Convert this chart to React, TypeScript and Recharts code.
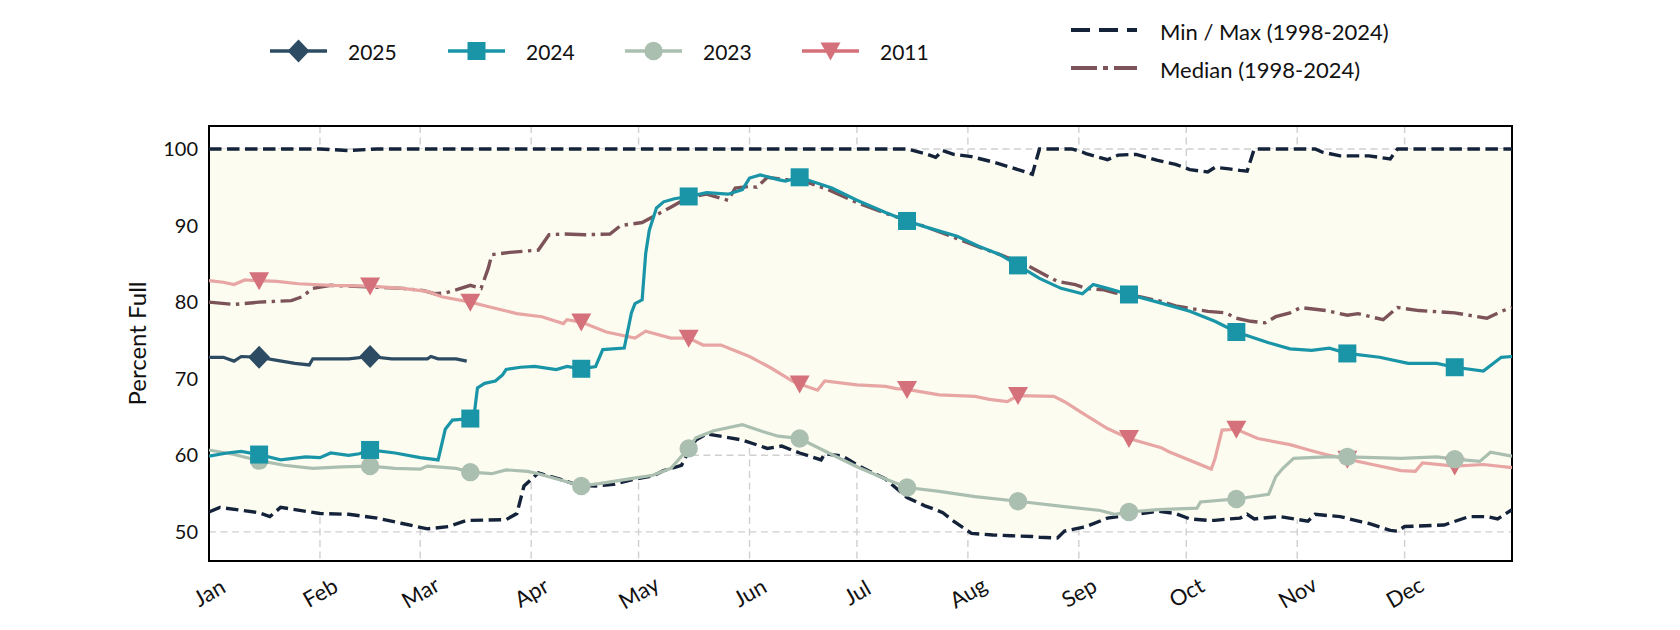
import React from 'react';
import {
  ComposedChart,
  Line,
  Area,
  XAxis,
  YAxis,
  CartesianGrid,
  ReferenceArea,
} from 'recharts';

const FONT = "Lato, 'DejaVu Sans', sans-serif";

const MONTHS = ['Jan', 'Feb', 'Mar', 'Apr', 'May', 'Jun', 'Jul', 'Aug', 'Sep', 'Oct', 'Nov', 'Dec'];
const MONTH_START_DAYS = [0, 31, 59, 90, 120, 151, 181, 212, 243, 273, 304, 334];
const MARKER_DAYS = [14, 45, 73, 104, 134, 165, 195, 226, 257, 287, 318, 348];
const Y_TICKS = [50, 60, 70, 80, 90, 100];

// Min / Max envelope (1998-2024)
const ENV_DAYS = [
  0, 3, 14, 17, 20, 31, 39, 47, 54, 61,
  67, 72, 83, 86, 88, 92, 98, 103, 108, 113,
  119, 124, 127, 132, 134, 136, 139, 144, 149, 156,
  160, 165, 171, 172, 177, 182, 189, 195, 200, 203,
  205, 208, 213, 219, 224, 230, 232, 237, 239, 241,
  244, 245, 251, 254, 259, 265, 270, 274, 279, 281,
  285, 288, 290, 292, 299, 307, 309, 311, 316, 322,
  324, 330, 332, 334, 345, 352, 357, 360, 364,
];
const MIN_VALS = [
  52.6, 53.2, 52.5, 52.0, 53.2, 52.4, 52.3, 51.8, 51.1, 50.4,
  50.7, 51.5, 51.6, 52.4, 56.0, 57.7, 56.9, 56.1, 56.0, 56.2,
  56.9, 57.3, 58.0, 58.7, 60.5, 62.0, 62.8, 62.4, 62.0, 60.9,
  61.2, 60.3, 59.4, 60.2, 59.9, 58.5, 56.9, 54.5, 53.4, 52.9,
  52.5, 51.4, 49.8, 49.6, 49.5, 49.4, 49.3, 49.2, 50.1, 50.3,
  50.6, 50.7, 51.8, 52.0, 52.3, 52.7, 52.4, 51.7, 51.5, 51.5,
  51.7, 51.8, 52.3, 51.7, 52.0, 51.4, 52.3, 52.2, 52.0, 51.3,
  51.1, 50.2, 50.1, 50.7, 50.9, 52.0, 52.0, 51.7, 52.9,
];
const MAX_VALS = [
  100, 100, 100, 100, 100, 100, 99.8, 100, 100, 100,
  100, 100, 100, 100, 100, 100, 100, 100, 100, 100,
  100, 100, 100, 100, 100, 100, 100, 100, 100, 100,
  100, 100, 100, 100, 100, 100, 100, 100, 99.4, 98.9,
  99.8, 99.3, 99.0, 98.3, 97.6, 96.7, 100, 100, 100, 100,
  99.6, 99.4, 98.6, 99.2, 99.3, 98.5, 98.0, 97.3, 97.0, 97.6,
  97.4, 97.2, 97.1, 100, 100, 100, 100, 99.6, 99.1, 99.1,
  99.1, 98.7, 100, 100, 100, 100, 100, 100, 100,
];

// Median (1998-2024)
const MEDIAN_DAYS = [
  0, 7, 14, 23, 26, 29, 34, 44, 54, 60,
  63, 66, 69, 73, 76, 78, 79, 84, 92, 95,
  99, 105, 112, 115, 121, 125, 129, 134, 139, 145,
  147, 151, 153, 156, 161, 165, 173, 181, 189, 195,
  201, 209, 215, 221, 229, 237, 242, 245, 250, 253,
  260, 266, 270, 279, 284, 287, 291, 295, 298, 302,
  305, 312, 318, 321, 328, 332, 338, 348, 357, 361,
  364,
];
const MEDIAN_VALS = [
  80.0, 79.7, 80.0, 80.2, 80.7, 81.8, 82.2, 82.0, 81.8, 81.5,
  81.1, 81.2, 81.6, 82.2, 81.8, 84.4, 86.2, 86.5, 86.8, 88.8,
  88.9, 88.8, 88.9, 90.0, 90.4, 91.4, 92.4, 93.7, 94.1, 93.3,
  94.9, 95.1, 95.0, 96.3, 96.0, 96.0, 94.7, 93.0, 91.6, 90.7,
  89.7, 88.3, 87.2, 86.2, 84.7, 82.7, 82.3, 81.8, 81.6, 81.2,
  80.7, 80.1, 79.5, 78.8, 78.6, 77.9, 77.5, 77.3, 78.1, 78.6,
  79.3, 78.9, 78.3, 78.5, 77.7, 79.3, 78.9, 78.6, 77.9, 78.8,
  79.3,
];

// 2025
const Y2025_DAYS = [0, 4, 7, 9, 14, 19, 24, 28, 29, 34, 39, 45, 51, 55, 61, 62, 64, 69, 72];
const Y2025_VALS = [72.8, 72.8, 72.3, 72.9, 72.8, 72.4, 72.0, 71.8, 72.6, 72.6, 72.6, 72.9, 72.6, 72.6, 72.6, 72.9, 72.6, 72.6, 72.3];

// 2024
const Y2024_DAYS = [
  0, 5, 9, 14, 20, 27, 31, 34, 39, 42,
  45, 52, 59, 64, 66, 68, 73, 74, 75, 77,
  80, 82, 83, 87, 91, 97, 100, 104, 108, 110,
  116, 118, 119, 121, 122, 123, 125, 127, 130, 134,
  139, 145, 149, 151, 154, 159, 161, 165, 174, 181,
  189, 195, 201, 209, 215, 221, 226, 232, 238, 244,
  247, 251, 257, 265, 274, 281, 287, 296, 302, 308,
  313, 318, 327, 335, 343, 348, 356, 361, 364,
];
const Y2024_VALS = [
  59.9, 60.3, 60.5, 60.1, 59.4, 59.8, 59.7, 60.3, 60.0, 60.2,
  60.7, 60.3, 59.7, 59.4, 63.4, 64.6, 64.8, 65.0, 68.8, 69.4,
  69.7, 70.5, 71.2, 71.5, 71.6, 71.2, 71.6, 71.3, 71.6, 73.8,
  74.0, 78.6, 79.8, 80.3, 86.4, 89.4, 92.3, 93.1, 93.5, 93.8,
  94.3, 94.1, 94.7, 96.2, 96.6, 96.0, 95.8, 96.3, 94.9, 93.3,
  91.7, 90.6, 89.7, 88.6, 87.3, 86.2, 84.8, 83.1, 81.8, 81.1,
  82.3, 81.8, 81.0, 80.0, 78.8, 77.5, 76.1, 74.7, 73.9, 73.7,
  74.0, 73.3, 72.8, 72.0, 72.0, 71.5, 71.0, 72.8, 72.9,
];

// 2023
const Y2023_DAYS = [
  0, 7, 14, 21, 29, 37, 45, 52, 59, 61,
  69, 73, 79, 83, 89, 92, 98, 104, 109, 117,
  124, 129, 133, 134, 136, 141, 149, 154, 159, 165,
  174, 181, 189, 195, 204, 214, 226, 239, 249, 253,
  257, 265, 276, 277, 287, 296, 298, 300, 303, 312,
  318, 333, 343, 348, 355, 358, 364,
];
const Y2023_VALS = [
  60.7, 60.1, 59.3, 58.7, 58.3, 58.5, 58.6, 58.3, 58.2, 58.6,
  58.3, 57.8, 57.6, 58.1, 57.9, 57.6, 56.8, 56.0, 56.3, 56.9,
  57.4, 58.3, 60.4, 60.9, 62.3, 63.2, 64.0, 63.2, 62.5, 62.2,
  60.1, 58.5, 56.9, 55.8, 55.3, 54.6, 54.0, 53.3, 52.8, 52.3,
  52.6, 52.9, 53.1, 53.9, 54.3, 54.9, 57.2, 58.3, 59.6, 59.8,
  59.8, 59.6, 59.8, 59.5, 59.2, 60.4, 59.9,
];

// 2011
const Y2011_DAYS = [
  0, 4, 7, 10, 14, 19, 25, 34, 45, 54,
  61, 65, 73, 79, 86, 93, 99, 100, 104, 111,
  119, 122, 129, 134, 138, 143, 151, 157, 163, 165,
  170, 172, 181, 189, 192, 195, 204, 214, 218, 223,
  226, 236, 239, 244, 251, 257, 266, 268, 280, 281,
  283, 287, 293, 302, 308, 312, 318, 325, 333, 337,
  339, 348, 356, 364,
];
const Y2011_VALS = [
  82.8, 82.6, 82.3, 82.9, 82.8, 82.7, 82.4, 82.2, 82.1, 81.8,
  81.4, 80.7, 80.0, 79.3, 78.5, 78.1, 77.2, 77.7, 77.4, 76.1,
  75.3, 76.2, 75.3, 75.3, 74.4, 74.4, 72.9, 71.4, 69.7, 69.3,
  68.5, 69.7, 69.2, 69.0, 68.7, 68.6, 67.9, 67.7, 67.3, 67.0,
  67.8, 67.7, 67.0, 65.5, 63.5, 62.2, 61.0, 60.5, 58.2, 59.5,
  63.3, 63.4, 62.2, 61.4, 60.6, 60.1, 59.5, 58.8, 58.0, 57.9,
  59.0, 58.6, 58.8, 58.4,
];

const C_NAVY = '#14233a';
const C_MEDIAN = '#7b5358';
const C_2025 = '#2d4b62';
const C_2024 = '#1995a7';
const C_2023 = '#abbfb1';
const C_2011 = '#d4717a';
const C_2011_LINE = '#e7a6a3';
const C_FILL = '#fcfcf1';

const toRows = (days: number[], vals: number[]) => days.map((d, i) => ({ d, v: vals[i] }));

const envRows = ENV_DAYS.map((d, i) => ({
  d,
  range: [MIN_VALS[i], MAX_VALS[i]],
  min: MIN_VALS[i],
  max: MAX_VALS[i],
}));

type Shape = 'diamond' | 'square' | 'circle' | 'tri';

const MarkerShape = ({ shape, cx, cy, color }: { shape: Shape; cx: number; cy: number; color: string }) => {
  if (shape === 'diamond') {
    return <polygon points={`${cx},${cy - 11.5} ${cx + 11},${cy} ${cx},${cy + 11.5} ${cx - 11},${cy}`} fill={color} />;
  }
  if (shape === 'square') {
    return <rect x={cx - 9} y={cy - 9} width={18} height={18} fill={color} />;
  }
  if (shape === 'circle') {
    return <circle cx={cx} cy={cy} r={9.2} fill={color} />;
  }
  return <polygon points={`${cx - 10},${cy - 8.5} ${cx + 10},${cy - 8.5} ${cx},${cy + 9.5}`} fill={color} />;
};

const makeDot = (shape: Shape, color: string, tag: string) => (props: any) => {
  const { cx, cy, payload, index } = props;
  if (!payload || !MARKER_DAYS.includes(payload.d) || cx == null || cy == null) {
    return <g key={`${tag}-n-${index}`} />;
  }
  return (
    <g key={`${tag}-m-${index}`}>
      <MarkerShape shape={shape} cx={cx} cy={cy} color={color} />
    </g>
  );
};

const MonthTick = (props: any) => {
  const { x, y, payload } = props;
  const idx = MONTH_START_DAYS.indexOf(payload.value);
  const cy = y + 31;
  return (
    <text
      x={x}
      y={cy}
      textAnchor="middle"
      dominantBaseline="central"
      transform={`rotate(-30 ${x} ${cy})`}
      fontSize={22}
      fontFamily={FONT}
      fill="#111"
    >
      {idx >= 0 ? MONTHS[idx] : ''}
    </text>
  );
};

const YLabel = (props: any) => {
  const vb = props.viewBox || { x: 0, y: 126, width: 209, height: 435 };
  const x = 136;
  const y = vb.y + vb.height / 2;
  return (
    <text
      x={x}
      y={y}
      textAnchor="middle"
      dominantBaseline="central"
      transform={`rotate(-90 ${x} ${y})`}
      fontSize={24}
      fontFamily={FONT}
      fill="#111"
    >
      Percent Full
    </text>
  );
};

const LEGEND_YEARS: { name: string; color: string; line: string; shape: Shape; x0: number }[] = [
  { name: '2025', color: C_2025, line: C_2025, shape: 'diamond', x0: 270 },
  { name: '2024', color: C_2024, line: C_2024, shape: 'square', x0: 448 },
  { name: '2023', color: C_2023, line: C_2023, shape: 'circle', x0: 625 },
  { name: '2011', color: C_2011, line: C_2011, shape: 'tri', x0: 802 },
];

const LegendBox = () => (
  <svg width={1680} height={110} style={{ position: 'absolute', left: 0, top: 0 }}>
    {LEGEND_YEARS.map((it) => (
      <g key={it.name}>
        <line x1={it.x0} x2={it.x0 + 57} y1={51} y2={51} stroke={it.line} strokeWidth={3.6} />
        <MarkerShape shape={it.shape} cx={it.x0 + 28.5} cy={51} color={it.color} />
        <text x={it.x0 + 78} y={51} dominantBaseline="central" fontSize={21} fontFamily={FONT} fill="#111">
          {it.name}
        </text>
      </g>
    ))}
    <line x1={1071} x2={1137} y1={30} y2={30} stroke={C_NAVY} strokeWidth={4} strokeDasharray="19 9" />
    <text x={1160} y={31} dominantBaseline="central" fontSize={22} fontFamily={FONT} fill="#111">
      Min / Max (1998-2024)
    </text>
    <line x1={1071} x2={1137} y1={68} y2={68} stroke={C_MEDIAN} strokeWidth={4} strokeDasharray="26 6 5 6" />
    <text x={1160} y={69} dominantBaseline="central" fontSize={22} fontFamily={FONT} fill="#111">
      Median (1998-2024)
    </text>
  </svg>
);

const LW = 3.2;
const DLW = 3.4;

export default function App() {
  return (
    <div style={{ position: 'absolute', left: 0, top: 0, width: 1680, height: 630, background: '#fff' }}>
      <ComposedChart
        width={1680}
        height={630}
        data={envRows}
        margin={{ top: 126, right: 168, bottom: 0, left: 0 }}
      >
        <CartesianGrid stroke="#d0d0d0" strokeDasharray="7 4.5" strokeWidth={1.4} />
        <XAxis
          type="number"
          dataKey="d"
          domain={[0, 364]}
          ticks={MONTH_START_DAYS}
          interval={0}
          allowDataOverflow
          tickLine={false}
          axisLine={false}
          tickSize={0}
          tickMargin={0}
          height={69}
          tick={<MonthTick />}
        />
        <YAxis
          type="number"
          domain={[46.2, 103]}
          ticks={Y_TICKS}
          interval={0}
          allowDataOverflow
          tickLine={false}
          axisLine={false}
          tickSize={0}
          tickMargin={11}
          width={209}
          tick={{ fontSize: 20, fill: '#111', fontFamily: FONT }}
          label={<YLabel />}
        />
        <Area
          dataKey="range"
          type="linear"
          fill={C_FILL}
          fillOpacity={1}
          stroke="none"
          isAnimationActive={false}
          activeDot={false}
        />
        <Line dataKey="max" type="linear" stroke={C_NAVY} strokeWidth={DLW} strokeDasharray="12.5 5.5" dot={false} activeDot={false} isAnimationActive={false} />
        <Line dataKey="min" type="linear" stroke={C_NAVY} strokeWidth={DLW} strokeDasharray="12.5 5.5" dot={false} activeDot={false} isAnimationActive={false} />
        <Line
          data={toRows(MEDIAN_DAYS, MEDIAN_VALS)}
          dataKey="v"
          type="linear"
          stroke={C_MEDIAN}
          strokeWidth={DLW}
          strokeDasharray="21.5 5.5 3.4 5.5"
          dot={false}
          activeDot={false}
          isAnimationActive={false}
        />
        <Line
          data={toRows(Y2011_DAYS, Y2011_VALS)}
          dataKey="v"
          type="linear"
          stroke={C_2011_LINE}
          strokeWidth={LW}
          dot={makeDot('tri', C_2011, 'y2011')}
          activeDot={false}
          isAnimationActive={false}
        />
        <Line
          data={toRows(Y2023_DAYS, Y2023_VALS)}
          dataKey="v"
          type="linear"
          stroke={C_2023}
          strokeWidth={LW}
          dot={makeDot('circle', C_2023, 'y2023')}
          activeDot={false}
          isAnimationActive={false}
        />
        <Line
          data={toRows(Y2024_DAYS, Y2024_VALS)}
          dataKey="v"
          type="linear"
          stroke={C_2024}
          strokeWidth={LW}
          dot={makeDot('square', C_2024, 'y2024')}
          activeDot={false}
          isAnimationActive={false}
        />
        <Line
          data={toRows(Y2025_DAYS, Y2025_VALS)}
          dataKey="v"
          type="linear"
          stroke={C_2025}
          strokeWidth={LW}
          dot={makeDot('diamond', C_2025, 'y2025')}
          activeDot={false}
          isAnimationActive={false}
        />
        <ReferenceArea
          x1={0}
          x2={364}
          y1={46.2}
          y2={103}
          fill="none"
          stroke="#000"
          strokeWidth={2}
          ifOverflow="visible"
        />
      </ComposedChart>
      <LegendBox />
    </div>
  );
}
